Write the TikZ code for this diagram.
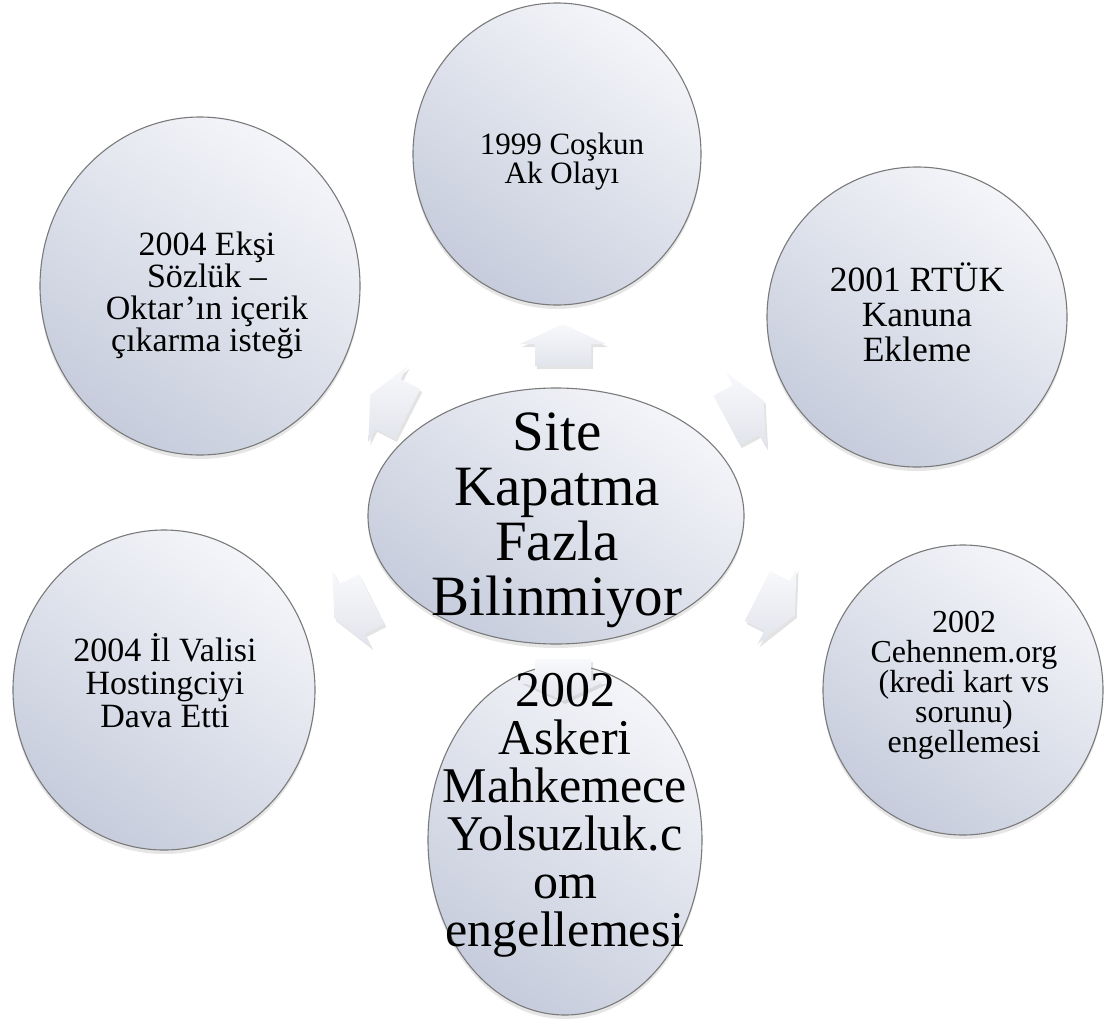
\documentclass[tikz,border=0pt]{standalone}
\usepackage{fontspec}
\setmainfont{Liberation Serif}
\usetikzlibrary{shapes.geometric,shadows}
\definecolor{gtop}{HTML}{F4F5F9}
\definecolor{gbot}{HTML}{C6CCDC}
\definecolor{edgegray}{HTML}{7A7A7A}
\definecolor{arrlo}{HTML}{E2E4EC}
\definecolor{arrhi}{HTML}{F8F9FB}
\begin{document}
\begin{tikzpicture}[x=1pt,y=-1pt,
  bubble/.style={ellipse, draw=edgegray, line width=1.1pt, top color=gtop, bottom color=gbot,
    shading angle=-35, inner sep=0pt,
    drop shadow={shadow xshift=0pt, shadow yshift=-4pt, opacity=0.22, fill=black!45}},
  blockarrow/.style={top color=arrhi, bottom color=arrlo, draw=none,
    drop shadow={shadow xshift=2pt, shadow yshift=-3pt, opacity=0.22, fill=black!50}},
  txt/.style={align=center, inner sep=0pt, text=black}
]
\path[use as bounding box] (0,0) rectangle (1104,1021);

% satellite circles
\node[bubble, minimum width=288pt, minimum height=302pt] (top) at (557,154) {};
\node[bubble, minimum width=320pt, minimum height=338pt] (tl) at (200,286) {};
\node[bubble, minimum width=300pt, minimum height=300pt] (tr) at (917,317) {};
\node[bubble, minimum width=302pt, minimum height=320pt] (bl) at (164,690) {};
\node[bubble, minimum width=280pt, minimum height=290pt] (br) at (963,690) {};
\node[bubble, minimum width=274pt, minimum height=350pt] (bot) at (565,840) {};

% block arrows
\coordinate (aT) at (563,344);
\coordinate (aB) at (563,681);
\coordinate (aTL) at (388,404);
\coordinate (aTR) at (746,410);
\coordinate (aBL) at (352,609);
\coordinate (aBR) at (777,606);
\path[blockarrow, shift={(aT)}, rotate=90] (-22,-28) -- (0,-28) -- (0,-43) -- (20,0) -- (0,43) -- (0,28) -- (-22,28) -- cycle;
\path[blockarrow, shift={(aB)}, rotate=-90] (-22,-28) -- (0,-28) -- (0,-43) -- (20,0) -- (0,43) -- (0,28) -- (-22,28) -- cycle;
\path[blockarrow, shift={(aTL)}, rotate=153] (-22,-28) -- (0,-28) -- (0,-43) -- (20,0) -- (0,43) -- (0,28) -- (-22,28) -- cycle;
\path[blockarrow, shift={(aTR)}, rotate=28] (-22,-28) -- (0,-28) -- (0,-43) -- (20,0) -- (0,43) -- (0,28) -- (-22,28) -- cycle;
\path[blockarrow, shift={(aBL)}, rotate=207] (-22,-28) -- (0,-28) -- (0,-43) -- (20,0) -- (0,43) -- (0,28) -- (-22,28) -- cycle;
\path[blockarrow, shift={(aBR)}, rotate=-27] (-22,-28) -- (0,-28) -- (0,-43) -- (20,0) -- (0,43) -- (0,28) -- (-22,28) -- cycle;

% centre
\node[bubble, minimum width=376pt, minimum height=256pt] (c) at (556,516) {};

% texts
\node[txt, font=\fontsize{31}{26}\selectfont] (tT) at (562,162) {1999 Coşkun\\Ak Olayı};
\node[txt, font=\fontsize{34}{32}\selectfont] (tTL) at (207,295) {2004 Ekşi\\Sözlük –\\Oktar’ın içerik\\çıkarma isteği};
\node[txt, font=\fontsize{35.5}{35}\selectfont] (tTR) at (917,312) {2001 RTÜK\\Kanuna\\Ekleme};
\node[txt, font=\fontsize{34}{33}\selectfont] (tBL) at (165,681) {2004 İl Valisi\\Hostingciyi\\Dava Etti};
\node[txt, font=\fontsize{32}{30}\selectfont] (tBR) at (964,685) {2002\\Cehennem.org\\(kredi kart vs\\sorunu)\\engellemesi};
\node[txt, font=\fontsize{50}{48}\selectfont] (tB) at (565,815) {2002\\Askeri\\Mahkemece\\Yolsuzluk.c\\om\\engellemesi};
\node[txt, font=\fontsize{57}{55}\selectfont] (tC) at (557,520) {Site\\Kapatma\\Fazla\\Bilinmiyor};
\end{tikzpicture}
\end{document}
